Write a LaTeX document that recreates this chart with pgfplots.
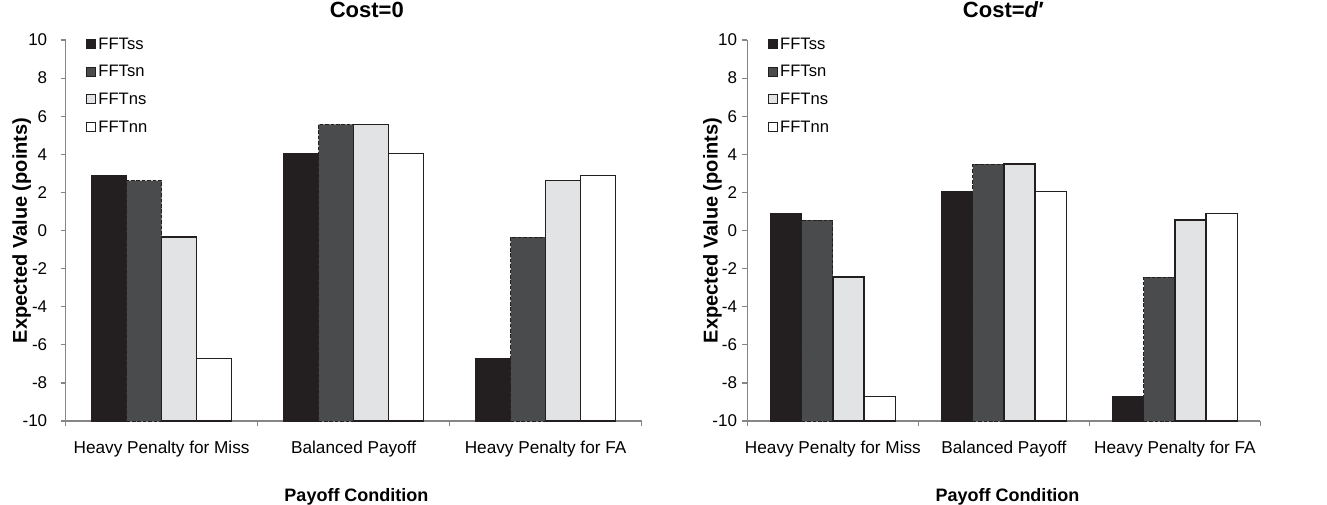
\documentclass[border=0pt]{standalone}
\usepackage{pgfplots}
\pgfplotsset{compat=1.18}
\usepackage{pgfplotstable}
\usepackage{fontspec}
\setmainfont{Liberation Sans}

\definecolor{cSS}{HTML}{231F20}
\definecolor{cSN}{HTML}{4A4B4D}
\definecolor{cNS}{HTML}{E2E3E4}
\definecolor{axgray}{HTML}{868686}

% values (points); bars are drawn from the bottom of the axis (-10)
\pgfplotstableread{
x ss sn ns nn
0 2.9 2.62 -0.35 -6.7
1 4.05 5.57 5.57 4.05
2 -6.7 -0.35 2.62 2.9
}\costzero

\pgfplotstableread{
x ss sn ns nn
0 0.9 0.55 -2.45 -8.7
1 2.05 3.48 3.48 2.03
2 -8.7 -2.45 0.55 0.88
}\costd

\pgfplotsset{
  myaxis/.style={
    scale only axis, height=190.5pt,
    ybar, bar width=0.182,
    xmin=-0.5, xmax=2.5, ymin=0, ymax=20,
    xtick={0,1,2},
    xticklabels={Heavy Penalty for Miss, Balanced Payoff, Heavy Penalty for FA},
    minor xtick={-0.5,0.5,1.5,2.5},
    ytick={0,2,...,20},
    yticklabels={-10,-8,-6,-4,-2,0,2,4,6,8,10},
    axis x line*=bottom, axis y line*=left,
    axis line style={axgray, line width=0.6pt, -},
    tick style={axgray, line width=0.6pt},
    major x tick style={draw=none},
    tick align=outside,
    major tick length=2.5pt, minor tick length=2.5pt,
    tick label style={font=\fontsize{8.5}{10}\selectfont},
    xticklabel style={anchor=north, inner sep=0pt, yshift=-7.5pt, font=\fontsize{8.6}{10}\selectfont},
    xlabel={Payoff Condition},
    ylabel={Expected Value (points)},
    xlabel style={anchor=base, font=\bfseries\fontsize{9}{11}\selectfont},
    ylabel style={anchor=center, font=\bfseries\fontsize{10}{12}\selectfont},
    every axis title shift=0pt,
    title style={anchor=base, font=\bfseries\fontsize{11}{13}\selectfont},
    legend image code/.code={\draw[#1, solid, line width=0.5pt] (0pt,-2.6pt) rectangle (4.5pt,1.9pt);},
    legend cell align=left,
    legend style={draw=none, fill=none, inner sep=0pt,
      at={(rel axis cs:0,1)}, anchor=north west, xshift=10pt, yshift=1.5pt,
      row sep=7.95pt,
      font=\fontsize{8.3}{9}\selectfont,
      nodes={inner sep=0pt, text height=5.9pt, text depth=0pt},
      /tikz/every odd column/.append style={column sep=1.2pt}},
  },
  bSS/.style={fill=cSS, draw=cSS, line width=0.3pt, bar shift=-0.273},
  bSN/.style={fill=cSN, draw=cSS, line width=0.5pt, dash pattern=on 1.8pt off 0.9pt, bar shift=-0.091},
  bNS/.style={fill=cNS, draw=cSS, line width=0.8pt, bar shift=0.091},
  bNN/.style={fill=white, draw=cSS, line width=0.6pt, bar shift=0.273},
}

\begin{document}
\begin{tikzpicture}
\path[use as bounding box] (0,0) rectangle (663.5pt,-252pt);

\begin{axis}[myaxis, width=288pt, at={(32.8pt,-210.5pt)}, anchor=south west,
  title={Cost=0},
  title style={at={(axis description cs:0.523,1.058)}},
  xlabel style={at={(axis description cs:0.505,-0.21)}},
  ylabel style={at={(axis description cs:-0.0764,0.5)}},
  yticklabel style={anchor=east, inner sep=0pt, xshift=-6.5pt},
]
\addplot[bSS] table[x=x, y expr=\thisrow{ss}+10]{\costzero};
\addlegendentry{FFTss}
\addplot[bSN] table[x=x, y expr=\thisrow{sn}+10]{\costzero};
\addlegendentry{FFTsn}
\addplot[bNS] table[x=x, y expr=\thisrow{ns}+10]{\costzero};
\addlegendentry{FFTns}
\addplot[bNN] table[x=x, y expr=\thisrow{nn}+10]{\costzero};
\addlegendentry{FFTnn}
\end{axis}

\begin{axis}[myaxis, width=256.5pt, at={(373.7pt,-210.5pt)}, anchor=south west,
  title={Cost=\textit{d}′},
  title style={at={(axis description cs:0.499,1.058)}},
  xlabel style={at={(axis description cs:0.507,-0.21)}},
  ylabel style={at={(axis description cs:-0.0682,0.5)}},
  yticklabel style={anchor=east, inner sep=0pt, xshift=-2.5pt},
]
\addplot[bSS] table[x=x, y expr=\thisrow{ss}+10]{\costd};
\addlegendentry{FFTss}
\addplot[bSN] table[x=x, y expr=\thisrow{sn}+10]{\costd};
\addlegendentry{FFTsn}
\addplot[bNS] table[x=x, y expr=\thisrow{ns}+10]{\costd};
\addlegendentry{FFTns}
\addplot[bNN] table[x=x, y expr=\thisrow{nn}+10]{\costd};
\addlegendentry{FFTnn}
\end{axis}
\end{tikzpicture}
\end{document}
